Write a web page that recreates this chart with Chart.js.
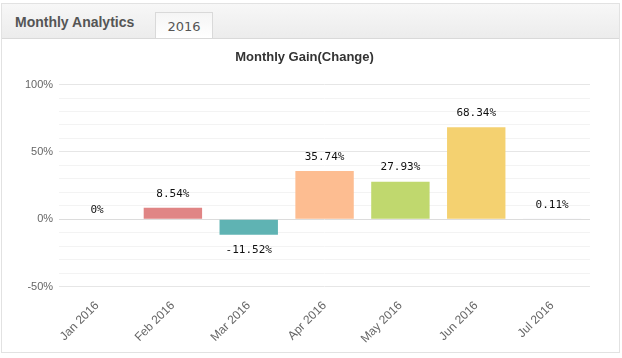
<!DOCTYPE html>
<html>
<head>
<meta charset="utf-8">
<script src="https://cdn.jsdelivr.net/npm/chart.js@4"></script>
<style>
  html, body { margin:0; padding:0; background:#fff; }
  body { width:622px; height:358px; position:relative; overflow:hidden; font-family:"Liberation Sans", Arial, sans-serif; }
  .panel { position:absolute; left:1px; top:3px; width:619px; height:350px; border:1px solid #e2e2e2; box-sizing:border-box; }
  .head { position:absolute; left:0; top:0; right:0; height:34px; background:linear-gradient(#f7f7f7,#ececec); border-bottom:1px solid #d9d9d9; }
  .head .ttl { position:absolute; left:13px; top:10px; font-weight:bold; font-size:14px; color:#555; }
  .head .tab { position:absolute; left:153px; top:8px; width:58px; height:26px; background:linear-gradient(#f5f5f5,#fff); border:1px solid #d9d9d9; border-bottom:none; box-sizing:border-box; text-align:center; font-family:"DejaVu Sans", Verdana, sans-serif; font-size:13px; color:#555; line-height:27px; }
  .wrap { position:absolute; left:2px; top:38px; width:616px; height:314px; }
</style>
</head>
<body>
<div class="panel">
  <div class="head">
    <div class="ttl">Monthly Analytics</div>
    <div class="tab">2016</div>
  </div>
</div>
<div class="wrap"><canvas id="gain"></canvas></div>
<script>
const months = ['Jan 2016','Feb 2016','Mar 2016','Apr 2016','May 2016','Jun 2016','Jul 2016'];
const gains = [0, 8.54, -11.52, 35.74, 27.93, 68.34, 0.11];
const barColors = ['#7cb5ec','#e08585','#5fb3b3','#fdbd91','#c0d86e','#f4d170','#f0eef8'];
const gainLabels = ['0%','8.54%','-11.52%','35.74%','27.93%','68.34%','0.11%'];

// value labels above / below each bar
const valueLabels = {
  id: 'valueLabels',
  afterDatasetsDraw(chart) {
    const ctx = chart.ctx;
    const meta = chart.getDatasetMeta(0);
    ctx.save();
    ctx.font = '11px "DejaVu Sans Mono", monospace';
    ctx.fillStyle = '#111';
    ctx.textAlign = 'center';
    ctx.textBaseline = 'middle';
    meta.data.forEach((bar, i) => {
      const v = gains[i];
      let y = v < 0 ? bar.y + 15 : bar.y - 14;
      if (v === 0) y = bar.y - 9;
      ctx.fillText(gainLabels[i], bar.x, y);
    });
    ctx.restore();
  }
};

new Chart(document.getElementById('gain'), {
  type: 'bar',
  data: {
    labels: months,
    datasets: [{
      data: gains,
      backgroundColor: barColors,
      borderWidth: 0,
      barPercentage: 0.77,
      categoryPercentage: 1
    }]
  },
  options: {
    responsive: true,
    maintainAspectRatio: false,
    animation: false,
    layout: { padding: { left: 17, right: 28, top: 0, bottom: 2 } },
    plugins: {
      legend: { display: false },
      tooltip: { enabled: false },
      title: {
        display: true,
        text: 'Monthly Gain(Change)',
        color: '#333',
        font: { family: '"Liberation Sans", Arial, sans-serif', size: 13, weight: 'bold' },
        padding: { top: 12, bottom: 19 }
      }
    },
    scales: {
      x: {
        grid: { display: false },
        border: { display: false },
        ticks: {
          color: '#666',
          font: { family: '"Liberation Sans", Arial, sans-serif', size: 12 },
          maxRotation: 45, minRotation: 45,
          padding: 4
        }
      },
      y: {
        min: -50, max: 100,
        border: { display: false },
        grid: {
          color: c => c.tick.value === 0 ? '#dcdcdc' : (c.tick.value % 50 === 0 ? '#e6e6e6' : '#f3f3f3'),
          lineWidth: 1,
          drawTicks: false
        },
        ticks: {
          stepSize: 10,
          autoSkip: false,
          padding: 6,
          color: '#666',
          font: { family: '"Liberation Sans", Arial, sans-serif', size: 11 },
          callback: v => v % 50 === 0 ? v + '%' : ''
        }
      }
    }
  },
  plugins: [valueLabels]
});
</script>
</body>
</html>
